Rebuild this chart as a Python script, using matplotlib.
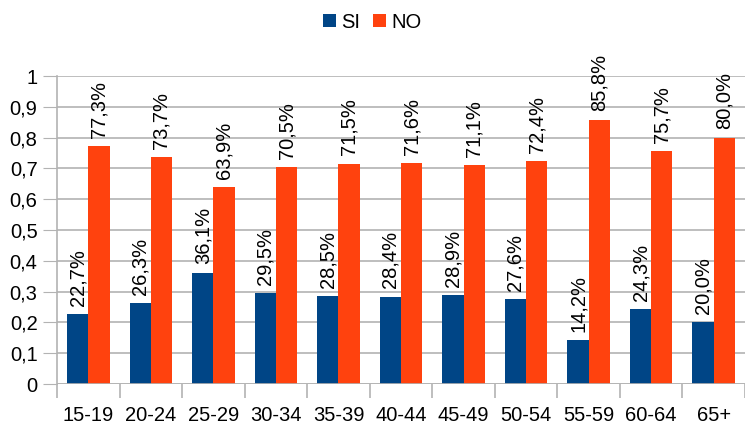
import matplotlib.pyplot as plt
import numpy as np

plt.rcParams['font.family'] = ['Liberation Sans', 'DejaVu Sans']

categories = ['15-19', '20-24', '25-29', '30-34', '35-39', '40-44',
              '45-49', '50-54', '55-59', '60-64', '65+']
si = [0.227, 0.263, 0.361, 0.295, 0.285, 0.284, 0.289, 0.276, 0.142, 0.243, 0.200]
no = [0.773, 0.737, 0.639, 0.705, 0.715, 0.716, 0.711, 0.724, 0.858, 0.757, 0.800]
yticks = [0, 0.1, 0.2, 0.3, 0.4, 0.5, 0.6, 0.7, 0.8, 0.9, 1]

blue = '#004586'
orange = '#ff420e'
grid = '#b3b3b3'
fs = 14.5

fig = plt.figure(figsize=(7.45, 4.26), dpi=100)
ax = fig.add_axes([57 / 745, (426 - 384) / 426, 688 / 745, 308 / 426])

x = np.arange(len(categories))
w = 0.34
b1 = ax.bar(x - w / 2, si, w, color=blue, label='SI', zorder=3)
b2 = ax.bar(x + w / 2, no, w, color=orange, label='NO', zorder=3)

def pct(v):
    return f'{v * 100:.1f}%'.replace('.', ',')

for bars, vals in ((b1, si), (b2, no)):
    for rect, v in zip(bars, vals):
        ax.annotate(pct(v), (rect.get_x() + rect.get_width() / 2, v),
                    xytext=(0, 6), textcoords='offset points',
                    rotation=90, ha='center', va='bottom', fontsize=fs)

ax.set_xlim(-0.5, len(categories) - 0.5)
ax.set_ylim(0, 1)
ax.set_yticks(yticks)
ax.set_yticklabels([str(t).replace('.', ',') for t in yticks], fontsize=fs)
ax.yaxis.grid(True, color=grid, linewidth=1.2, zorder=0)
ax.set_axisbelow(True)
ax.tick_params(axis='y', length=10, color=grid, pad=4)

ax.set_xticks(x)
ax.set_xticklabels(categories, fontsize=fs)
ax.tick_params(axis='x', length=0, pad=16)
ax.set_xticks(np.arange(-0.5, len(categories), 1), minor=True)
ax.tick_params(axis='x', which='minor', length=10, color=grid, width=1.2)

for s in ['top', 'right', 'bottom']:
    ax.spines[s].set_visible(False)
ax.spines['left'].set_color(grid)
ax.spines['left'].set_linewidth(1.2)
ax.axhline(0, color=grid, linewidth=1.2, zorder=4)

fig.legend(handles=[b1, b2], loc='center', bbox_to_anchor=(0.5, 1 - 22 / 426),
           ncol=2, frameon=False, fontsize=fs, handlelength=0.64, handleheight=0.64,
           handletextpad=0.25, columnspacing=0.65)

fig.savefig('out.png', dpi=100)
